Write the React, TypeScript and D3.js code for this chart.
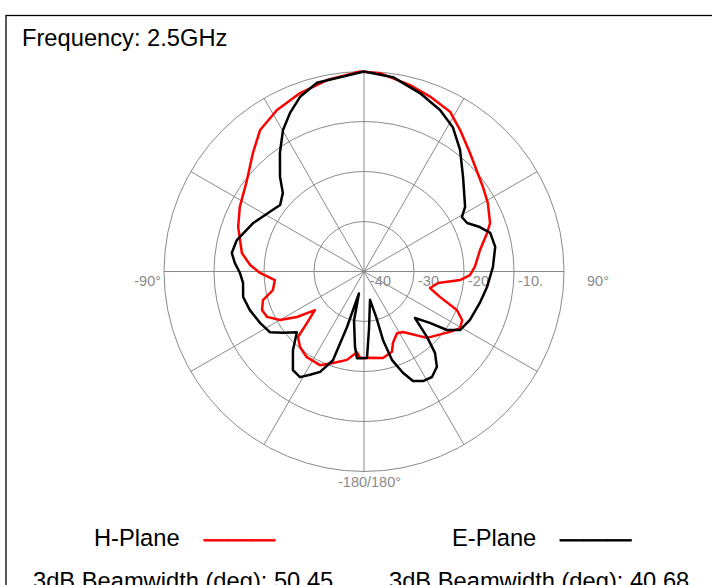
import React from "react";
import * as d3 from "d3";

const hAngles = [-177.4, -175, -169.1, -161.3, -154.8, -146.3, -139.7, -134.8, -132.1, -128.2, -124.2, -120, -115.1, -110.7, -105.8, -101.5, -95.5, -90.8, -86.7, -81.4, -70.5, -62.5, -52, -43.1, -36.3, -28.3, -19.7, -10.9, -1.1, 4.6, 13.9, 20.7, 28.3, 34.2, 41.8, 54.5, 61.1, 69, 72.6, 79.5, 84.2, 87.5, 91.9, 95.1, 98.8, 104, 108.5, 112.5, 116.3, 120.5, 125.1, 136.5, 147.2, 151.8, 157.9, 160.8, 167.6, 176];
const hGain = [-22.7, -23.8, -22.0, -20.7, -19.3, -19.4, -20.2, -21.4, -24.6, -27.5, -23.8, -20.6, -18.6, -18.2, -19.0, -21.4, -22.1, -19.2, -17.2, -15.3, -13.3, -12.0, -10.3, -7.5, -4.9, -3.3, -2.1, -1.0, 0, -0.2, -1.6, -2.6, -3.7, -5.8, -8.2, -10.8, -11.7, -13.0, -14.2, -16.4, -17.3, -17.8, -18.8, -20.7, -25.0, -26.4, -24.0, -19.9, -18.1, -17.7, -19.0, -21.7, -25.6, -26.0, -24.6, -23.0, -22.3, -22.7];

const eAngles = [-175.4, -173.2, -168.5, -167, -163, -160.7, -156.4, -152.4, -148.8, -144.2, -137.9, -132.1, -127.2, -122.8, -116.3, -108.7, -101.9, -95.4, -90.7, -86.2, -82, -76.1, -66.4, -55.9, -51.6, -45.9, -41.6, -35.3, -29.8, -25, -20.1, -14, 0, 8.5, 17.4, 25.2, 31.6, 38.3, 46.3, 57.4, 60.9, 64.8, 69, 73, 79.4, 88, 97.2, 105.2, 114.6, 121.4, 125.2, 128, 132.4, 136.1, 138.9, 142.6, 147.2, 151.7, 155.9, 159, 162.4, 164.5, 165, 168, 175, 178];
const eGain = [-22.6, -24.8, -30, -35.5, -28.4, -21.2, -18.1, -16.7, -15.3, -15.7, -18.8, -21.9, -19.7, -17.6, -16.8, -15.9, -15.3, -15.7, -15.2, -14.1, -13.3, -13.8, -15.8, -18.0, -18.6, -17.4, -14.7, -10.9, -7.4, -5.0, -2.8, -1.1, 0, -0.7, -2.6, -4.3, -6.1, -9.0, -12.6, -16.0, -17.6, -17.2, -15.2, -13.6, -13.3, -14.2, -15.2, -16.0, -16.7, -17.5, -19.7, -23.3, -26.2, -21.8, -18.4, -16.0, -14.9, -15.1, -16.0, -18.3, -21.4, -25.8, -30.5, -34.2, -28.5, -22.7];

const ringValues = [-30, -20, -10, 0];
const ringLabelValues = [-40, -30, -20, -10];
const ringLabels = ["-40", "-30", "-20", "-10."];
const spokeAngles = d3.range(0, 360, 30);

const title = "Frequency: 2.5GHz";
const seriesNames = ["H-Plane", "E-Plane"];
const seriesColors = ["#ff0000", "#000000"];
const beamwidths = ["50.45", "40.68"];

const cx = 364;
const cy = 271.5;
const R = 200;

export default function App() {
  const r = d3.scaleLinear().domain([-40, 0]).range([0, R]).clamp(true);
  const mk = (angles: number[], gains: number[]) =>
    d3
      .lineRadial<number>()
      .angle((_, i) => (angles[i] * Math.PI) / 180)
      .radius((_, i) => r(gains[i]))
      .curve(d3.curveLinearClosed)(angles) || "";
  const hPath = mk(hAngles, hGain);
  const ePath = mk(eAngles, eGain);
  const font = "'Liberation Sans', Arial, sans-serif";
  const grid = "#8a8a8a";
  const lab = "#8a8a8a";
  return (
    <svg
      width={712}
      height={585}
      style={{ position: "absolute", left: 0, top: 0, background: "#fff" }}
      fontFamily={font}
    >
      <rect x={0} y={0} width={712} height={585} fill="#fff" />
      <rect x={6} y={15.5} width={740} height={620} fill="none" stroke="#000" strokeWidth={1.3} />
      <text x={22} y={46} fontSize={23.7} fill="#000">{title}</text>
      <g transform={`translate(${cx},${cy})`}>
        {ringValues.map((v) => (
          <circle key={v} r={r(v)} fill="none" stroke={grid} strokeWidth={1} />
        ))}
        {spokeAngles.map((a) => {
          const t = (a * Math.PI) / 180;
          return (
            <line key={a} x1={0} y1={0} x2={R * Math.sin(t)} y2={-R * Math.cos(t)} stroke={grid} strokeWidth={1} />
          );
        })}
        {ringLabelValues.map((v, i) => (
          <text key={v} x={r(v) + (i === 0 ? 6 : 4)} y={14.5} fontSize={14.5} fill={lab}>{ringLabels[i]}</text>
        ))}
        <text x={-R - 3} y={14.5} fontSize={14.5} fill={lab} textAnchor="end">-90°</text>
        <text x={R + 23} y={14.5} fontSize={14.5} fill={lab}>90°</text>
        <text x={-26} y={R + 15.5} fontSize={14.5} fill={lab}>-180/180°</text>
        <path d={hPath} fill="none" stroke={seriesColors[0]} strokeWidth={2.5} strokeLinejoin="round" />
        <path d={ePath} fill="none" stroke={seriesColors[1]} strokeWidth={2.5} strokeLinejoin="round" />
      </g>
      <text x={94} y={546} fontSize={23.7} fill="#000">{seriesNames[0]}</text>
      <text x={204} y={546} fontSize={23.7} fill={seriesColors[0]} stroke={seriesColors[0]} strokeWidth={0.9}>———</text>
      <text x={452} y={546} fontSize={23.7} fill="#000">{seriesNames[1]}</text>
      <text x={560} y={546} fontSize={23.7} fill={seriesColors[1]} stroke={seriesColors[1]} strokeWidth={0.9}>———</text>
      <text x={33} y={589} fontSize={23.7} fill="#000">{`3dB Beamwidth (deg): ${beamwidths[0]}`}</text>
      <text x={389} y={589} fontSize={23.7} fill="#000">{`3dB Beamwidth (deg): ${beamwidths[1]}`}</text>
    </svg>
  );
}
